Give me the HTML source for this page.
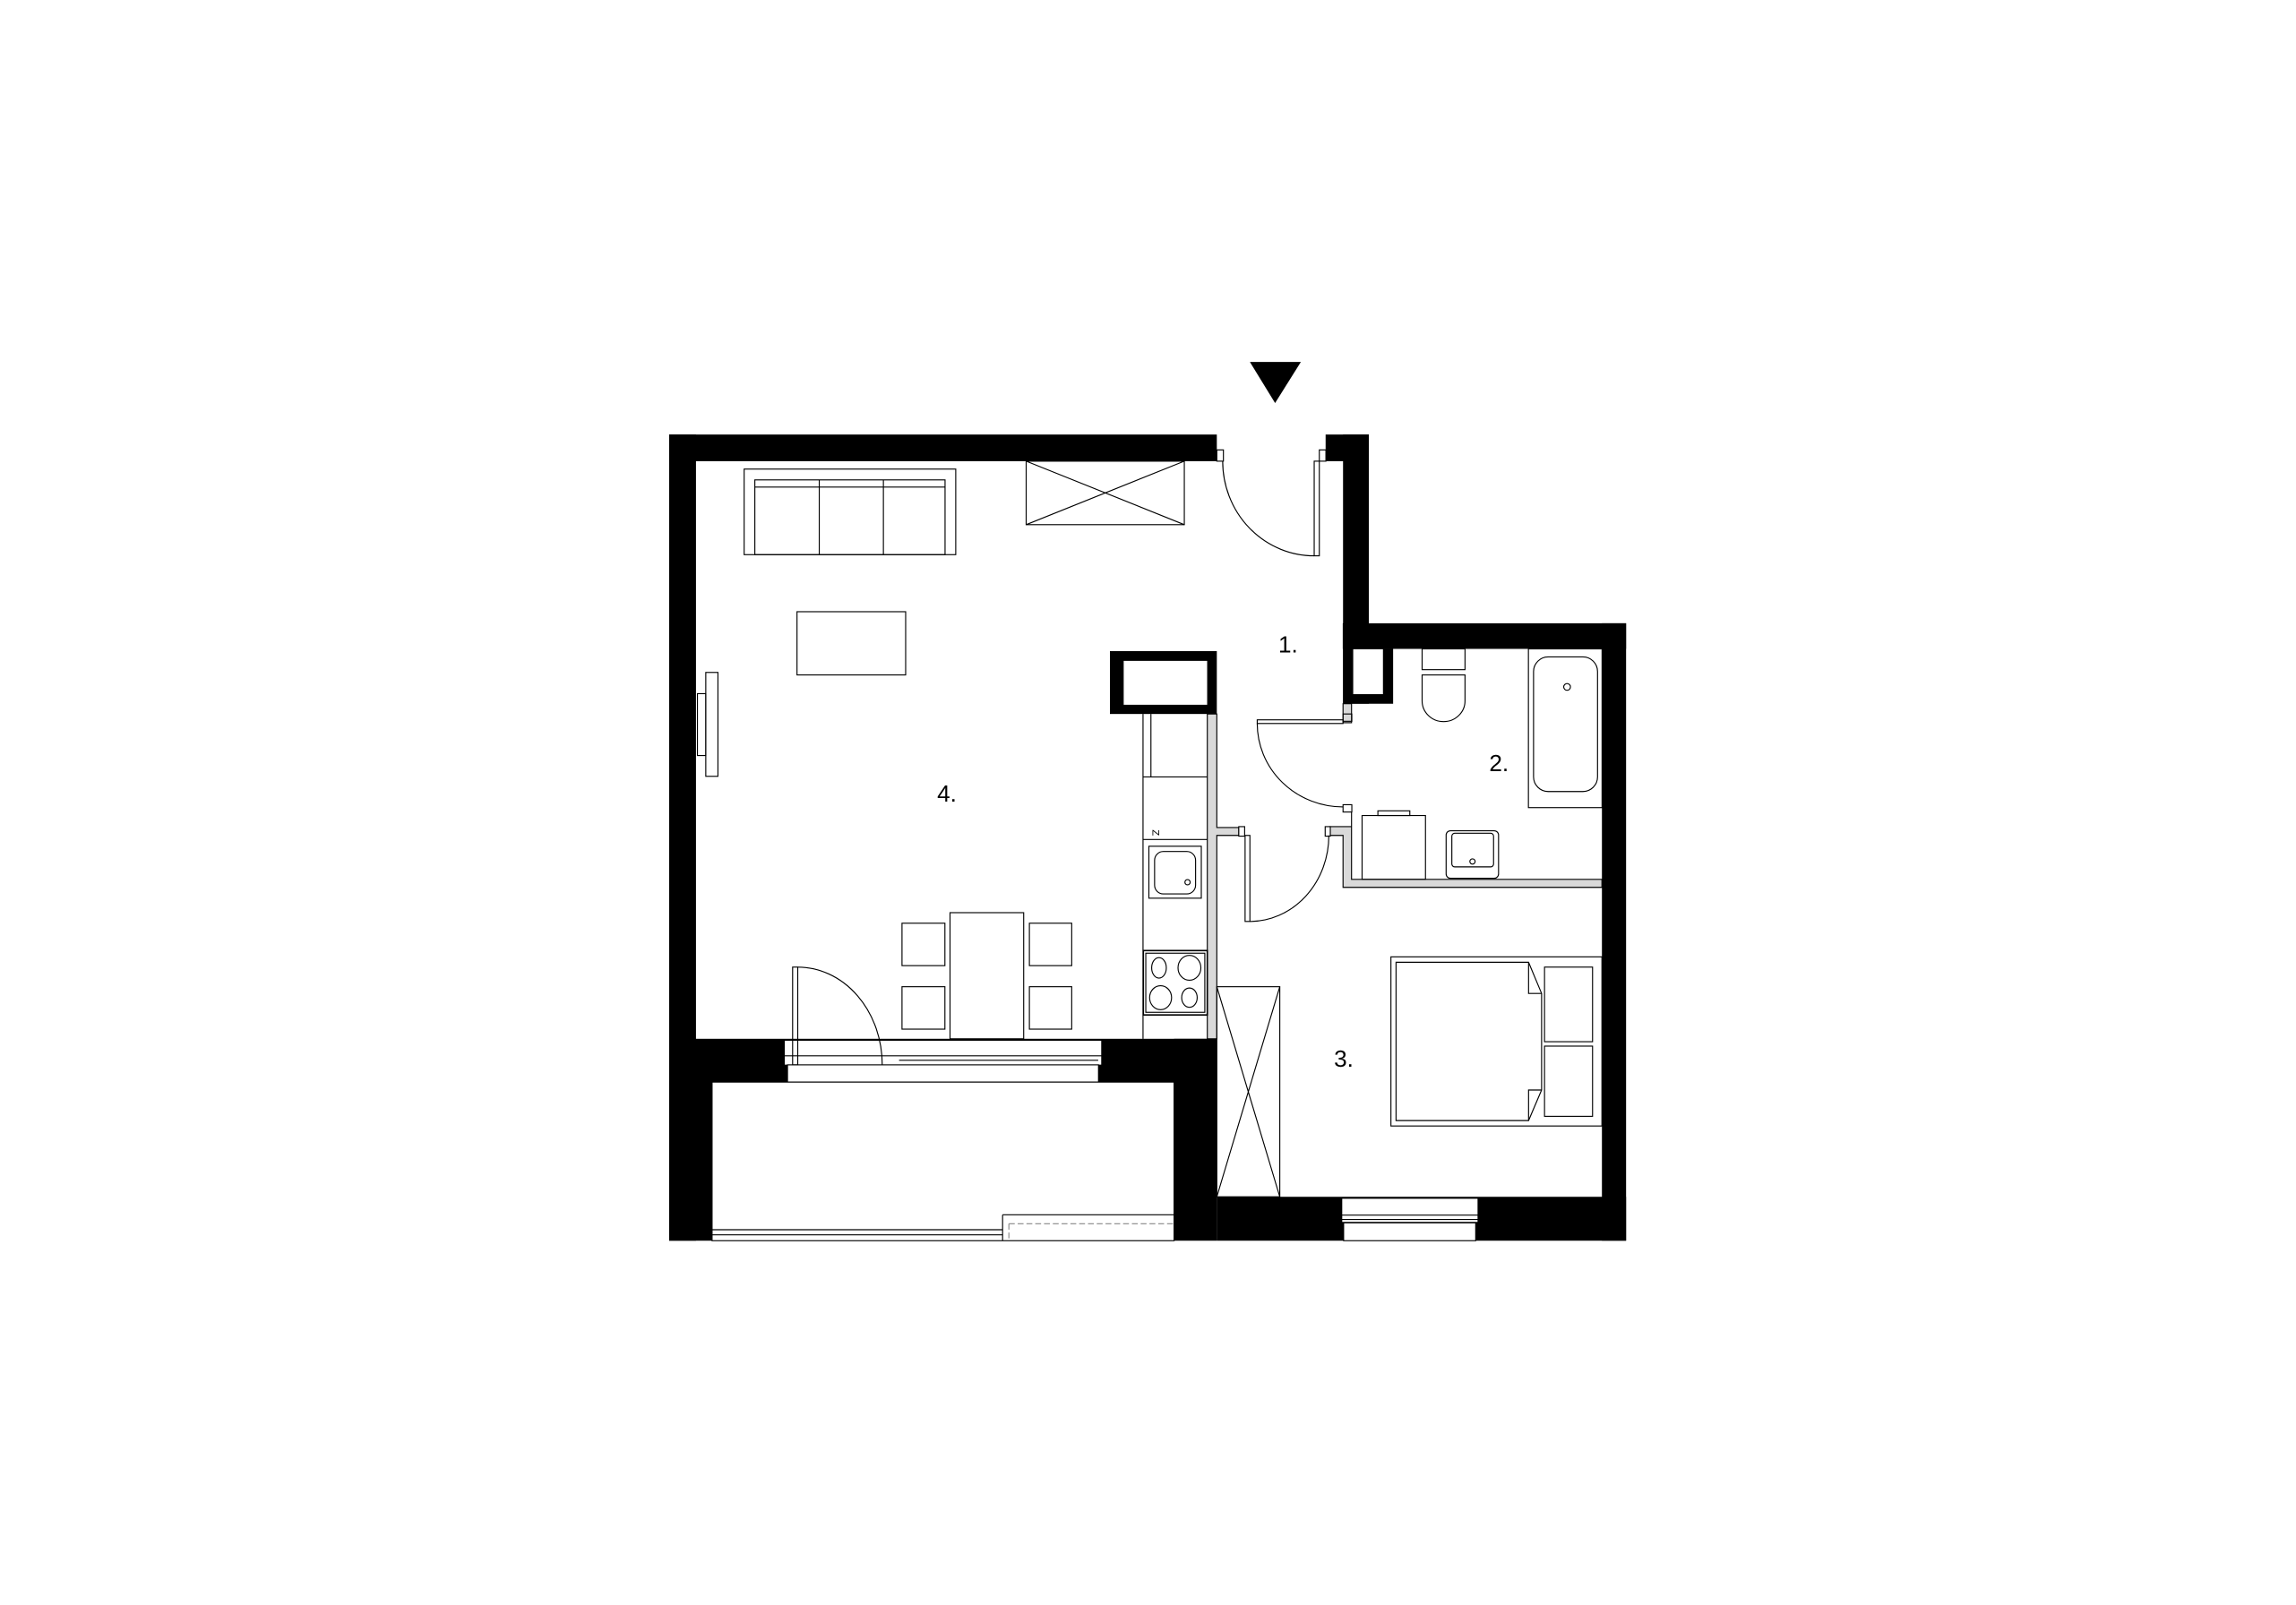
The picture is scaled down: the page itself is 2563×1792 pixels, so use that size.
<!DOCTYPE html>
<html><head><meta charset="utf-8"><style>
html,body{margin:0;padding:0;background:#fff;}
svg{display:block;}
text{font-family:"Liberation Sans","DejaVu Sans",sans-serif;font-size:16px;fill:#000;}
</style></head><body>
<svg width="2563" height="1792" viewBox="0 0 1568 1097" preserveAspectRatio="none" xmlns="http://www.w3.org/2000/svg">
<rect width="1568" height="1097" fill="#fff"/>
<!-- entry arrow -->
<polygon points="853.6,247.4 888.4,247.4 870.8,275.5" fill="#000"/>
<g fill="#000">
<rect x="457" y="297" width="374" height="18.2"/>
<rect x="457" y="297" width="18.3" height="551"/>
<rect x="457" y="739" width="29.3" height="109"/>
<rect x="475" y="710" width="356" height="29.6"/>
<rect x="801.8" y="710" width="29.2" height="138"/>
<rect x="831" y="818" width="279.5" height="30"/>
<rect x="1094" y="426" width="16.5" height="422"/>
<rect x="917" y="426" width="193.5" height="17.5"/>
<rect x="905.3" y="297" width="29.5" height="18.2"/>
<rect x="917.2" y="297" width="17.6" height="184"/>
<rect x="917.2" y="443.5" width="34.2" height="37.5"/>
<rect x="758" y="445" width="73" height="43"/>
</g>
<g fill="#fff">
<rect x="923.9" y="443.5" width="20.8" height="31.2" stroke="#000" stroke-width="0.5"/>
<rect x="767.4" y="451.7" width="57" height="30" />
</g>
<g fill="none" stroke="#000" stroke-width="0.7">
<!-- grey walls -->
<path d="M824.5,488 H831 V565.6 H846 V571 H831 V710 H824.5 Z" fill="#d9d9d9"/>
<path d="M917.2,481 H923 V494 H917.2 Z" fill="#d9d9d9"/>
<path d="M917.2,554 H923 V565 H908 V571 H917.2 V606.5 H1094 V601 H923 V554" fill="#d9d9d9"/>
<!-- entrance door -->
<rect x="831" y="307.5" width="4.5" height="7.7" fill="#fff"/>
<rect x="901" y="307.5" width="4.5" height="7.7" fill="#fff"/>
<rect x="897.5" y="315.2" width="3.5" height="64.7"/>
<path d="M835,315.2 A62.5,64.7 0 0 0 897.5,379.9"/>
<!-- bathroom door -->
<rect x="917.2" y="488" width="6" height="5"/>
<rect x="858.6" y="492" width="58.6" height="2.5"/>
<path d="M858.6,494.5 A58.6,57 0 0 0 917.2,551.5"/>
<rect x="917.2" y="550" width="6" height="5" fill="#fff"/>
<rect x="905" y="565" width="3.5" height="6.5" fill="#fff"/>
<!-- bedroom door -->
<rect x="846" y="565" width="4" height="6.5" fill="#fff"/>
<rect x="850.3" y="571" width="3.3" height="58.8"/>
<path d="M853.6,629.8 A54,58.8 0 0 0 907.5,571"/>
<!-- storage top -->
<rect x="700.8" y="315.2" width="108" height="43.4"/>
<path d="M700.8,315.2 L808.8,358.6 M808.8,315.2 L700.8,358.6"/>
<!-- sofa -->
<rect x="508.2" y="320.6" width="144.5" height="58.5"/>
<rect x="515.5" y="328" width="129.9" height="51.1"/>
<path d="M515.5,332.9 H645.4 M559.5,328 V379.1 M603.3,328 V379.1"/>
<!-- coffee table -->
<rect x="544.3" y="418.1" width="74.2" height="43.2"/>
<!-- TV -->
<rect x="482" y="459.6" width="8.3" height="71"/>
<rect x="476.3" y="474.1" width="5.7" height="42.3"/>
<!-- kitchen counter -->
<path d="M780.6,488 V710 M780.6,531 H824.5 M786,488 V531 M780.6,573.8 H824.5"/>
<rect x="784.6" y="578.4" width="35.8" height="35.5"/>
<rect x="788.5" y="582" width="28" height="29" rx="6"/>
<circle cx="811" cy="603" r="1.8"/>
<rect x="780.8" y="649.7" width="43.7" height="44" stroke-width="1"/>
<rect x="782.5" y="651.5" width="40.3" height="40.4"/>
<ellipse cx="791.5" cy="661.5" rx="5" ry="7"/>
<ellipse cx="812.3" cy="661.5" rx="7.8" ry="8.5"/>
<ellipse cx="792.6" cy="681.9" rx="7.5" ry="8.2"/>
<ellipse cx="812.3" cy="681.9" rx="5.3" ry="6.6"/>
<!-- dining -->
<rect x="648.8" y="623.8" width="50.3" height="86.2"/>
<rect x="616" y="631" width="29.3" height="29"/>
<rect x="616" y="674.4" width="29.3" height="29"/>
<rect x="703" y="631" width="28.9" height="29"/>
<rect x="703" y="674.4" width="28.9" height="29"/>
<!-- balcony door & window -->
<rect x="535.6" y="711" width="216.8" height="17" fill="#fff"/>
<rect x="537.8" y="727.8" width="212.4" height="11.8" fill="#fff"/>
<path d="M535.6,721.6 H752.4 M614,724.7 H750"/>
<rect x="541.3" y="661" width="3.5" height="66.8"/>
<path d="M544.8,661 A57.7,66.8 0 0 1 602.5,727.8"/>
<!-- balcony -->
<rect x="486.3" y="739.6" width="315.5" height="108.4" fill="#fff"/>
<path d="M486.3,840.5 H684.7 M486.3,844 H684.7 M684.7,830.3 V848 M684.7,830.3 H801.8" />
<path d="M689,836.4 H801.8 M689,836.4 V848" stroke="#888" stroke-dasharray="4,2"/>
<!-- bedroom window -->
<rect x="916.3" y="819" width="93.1" height="16.5" fill="#fff"/>
<rect x="917.6" y="835.8" width="90.2" height="12.2" fill="#fff"/>
<path d="M916.3,830.5 H1009.4 M916.3,833.5 H1009.4"/>
<!-- wardrobe -->
<rect x="831" y="674.4" width="43" height="143.6"/>
<path d="M831,674.4 L874,818 M874,674.4 L831,818"/>
<!-- bed -->
<rect x="949.9" y="654" width="144.1" height="115.6"/>
<path d="M953.4,657.7 H1043.9 L1052.8,679 V745 L1043.9,765.9 H953.4 Z"/>
<path d="M1043.9,657.7 V679 H1052.8 M1043.9,765.9 V745 H1052.8"/>
<rect x="1054.8" y="661" width="32.8" height="51"/>
<rect x="1054.8" y="715" width="32.8" height="48"/>
<!-- toilet -->
<rect x="971.2" y="443.5" width="29.3" height="14.2"/>
<path d="M971.2,461.3 H1000.5 V479 A14.65,14.2 0 0 1 971.2,479 Z"/>
<!-- bathtub -->
<rect x="1043.8" y="443.5" width="50.3" height="108.5"/>
<rect x="1047.3" y="449" width="43.7" height="92" rx="10"/>
<circle cx="1070.2" cy="469.5" r="2.3"/>
<!-- washer -->
<rect x="930.2" y="557.4" width="43.3" height="43.6"/>
<rect x="941" y="554.2" width="21.8" height="3.2"/>
<!-- sink -->
<rect x="987.6" y="567.8" width="35.8" height="32.5" rx="3"/>
<rect x="991.5" y="569.5" width="28.5" height="23" rx="2"/>
<circle cx="1005.6" cy="588.8" r="1.8"/>
</g>
<text x="873" y="446">1.</text>
<text x="1017" y="527">2.</text>
<text x="911" y="729">3.</text>
<text x="640" y="548">4.</text>
<text x="0" y="0" transform="translate(787,567) rotate(90)" style="font-size:7px">Z</text>
</svg>
</body></html>
